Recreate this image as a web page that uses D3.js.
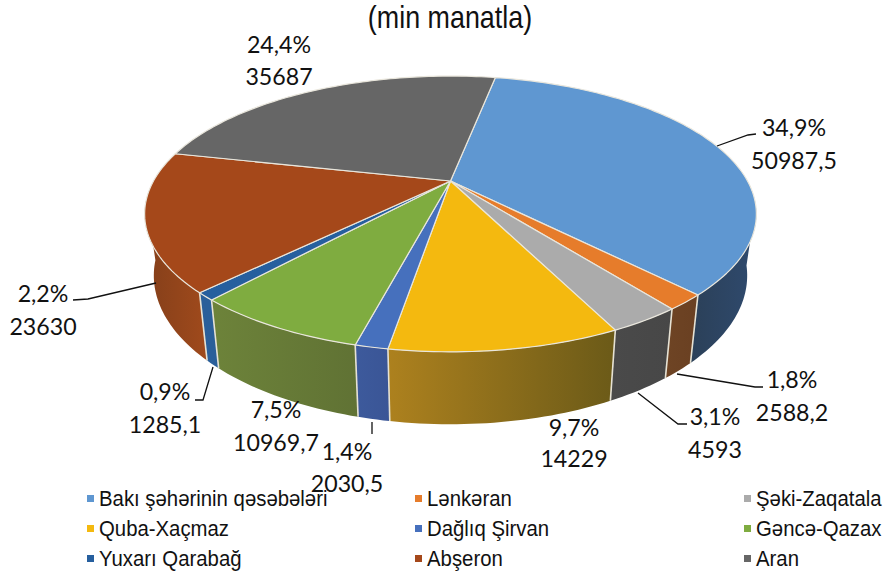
<!DOCTYPE html>
<html lang="az">
<head>
    <meta charset="UTF-8">
    <title>min manatla</title>
    <script src="https://d3js.org/d3.v7.min.js"></script>
    <style>
        html, body { margin: 0; padding: 0; background: #fff; }
        svg { display: block; }
        .label { font-family: Lato, sans-serif; font-size: 23.2px; fill: #111; text-anchor: middle; }
        .legend_text { font-family: "Liberation Sans", sans-serif; font-size: 22px; fill: #111; }
        .title { font-family: "Liberation Sans", sans-serif; font-size: 32px; fill: #111; text-anchor: middle; }
    </style>
</head>
<body>
<svg id="chart"></svg>
<script>
    // data
    const categories = ["Bakı şəhərinin qəsəbələri", "Lənkəran", "Şəki-Zaqatala", "Quba-Xaçmaz", "Dağlıq Şirvan",
        "Gəncə-Qazax", "Yuxarı Qarabağ", "Abşeron", "Aran"];
    const values = [50987.5, 2588.2, 4593, 14229, 2030.5, 10969.7, 1285.1, 23630, 35687];
    const percentLabels = ["34,9%", "1,8%", "3,1%", "9,7%", "1,4%", "7,5%", "0,9%", "2,2%", "24,4%"];
    const valueLabels = ["50987,5", "2588,2", "4593", "14229", "2030,5", "10969,7", "1285,1", "23630", "35687"];

    // styles
    const topColors = ["#5f97d1", "#e67c2b", "#ababab", "#f4b90f", "#4670bd", "#7fac40", "#265f9e", "#a5481a", "#666666"];
    const wallLeft = ["#2b4058", "#6e4424", "#4a4a4a", "#ad811e", "#3d5a9c", "#6d833a", "#2a5f9a", "#843f1a", "#555"];
    const wallRight = ["#2f4a6e", "#6a4022", "#474747", "#6b5a18", "#3a5596", "#607234", "#2a5f9a", "#a04a1c", "#555"];

    // label layout: [x, baseline of first line, baseline of second line]
    const labelPos = [[794, 136, 169], [792, 388, 421], [715, 425, 458], [574, 436, 467], [347, 460, 492],
        [276, 418, 451], [165, 400, 433], [43, 302, 335], [279, 53, 85]];
    const leaders = [
        [[717, 146], [748, 135], [756, 134]],
        [[677, 374], [755, 387], [763, 387]],
        [[638, 393], [678, 424], [687, 424]],
        [[372, 422], [372, 434]],
        [[213, 367], [203, 400], [195, 400]],
        [[156, 283], [88, 299], [73, 300]]
    ];
    const legendCols = [87, 415, 744];
    const legendRows = [499, 529, 559];

    const width = 884, height = 574;
    const svg = d3.select("#chart").attr("width", width).attr("height", height);

    // the pie lies in a plane seen in perspective, apex at (450,181)
    const persp = 0.239;
    const xScale = d3.scaleLinear().domain([0, 1]).range([450.5, 747.5]);
    const yScale = d3.scaleLinear().domain([0, 1]).range([181, 311]);
    const wallDepth = 59, wallShrink = 0.03;

    function project(theta, z) {
        const u = Math.sin(theta), v = -Math.cos(theta);
        const s = 1 / (1 - persp * v);
        const k = s * (1 - wallShrink * z);
        return [xScale(u * k), yScale(v * k) + wallDepth * s * z];
    }

    function rim(a0, a1, z) {
        const n = Math.max(2, Math.ceil((a1 - a0) / 0.02));
        return d3.range(n + 1).map(i => project(a0 + (a1 - a0) * i / n, z));
    }

    const deg = Math.PI / 180;
    const slices = d3.pie().sort(null)
        .startAngle(10.75 * deg).endAngle(370.75 * deg)(values);
    const line = d3.line();
    const visible0 = 100 * deg, visible1 = 262 * deg;

    const defs = svg.append("defs");
    slices.forEach(function (d, i) {
        const g = defs.append("linearGradient").attr("id", "wall" + i);
        g.append("stop").attr("offset", 0).attr("stop-color", wallLeft[i]);
        g.append("stop").attr("offset", 1).attr("stop-color", wallRight[i]);
    });

    // side walls
    const walls = svg.append("g");
    slices.forEach(function (d, i) {
        const a0 = Math.max(d.startAngle, visible0), a1 = Math.min(d.endAngle, visible1);
        if (a1 <= a0) return;
        const pts = rim(a0, a1, 0).concat(rim(a0, a1, 1).reverse());
        walls.append("path").attr("d", line(pts) + "Z")
            .attr("fill", "url(#wall" + i + ")");
    });

    // light dividers on the walls
    slices.forEach(function (d) {
        if (d.startAngle > visible0 && d.startAngle < visible1) {
            walls.append("path")
                .attr("d", line([project(d.startAngle, 0), project(d.startAngle, 1)]))
                .attr("stroke", "#e6e2d4").attr("stroke-width", 1.6).attr("fill", "none");
        }
    });

    // top of the pie
    const tops = svg.append("g");
    slices.forEach(function (d, i) {
        const pts = [[xScale(0), yScale(0)]].concat(rim(d.startAngle, d.endAngle, 0));
        tops.append("path").attr("d", line(pts) + "Z")
            .attr("fill", topColors[i])
            .attr("stroke", "#e9e6dc").attr("stroke-width", 1.2).attr("stroke-linejoin", "round");
    });

    // leader lines
    svg.append("g").selectAll("path").data(leaders).join("path")
        .attr("d", d => line(d)).attr("fill", "none")
        .attr("stroke", "#111").attr("stroke-width", 1.3);

    // labels
    const labels = svg.append("g");
    percentLabels.forEach(function (t, i) {
        labels.append("text").attr("class", "label").attr("x", labelPos[i][0]).attr("y", labelPos[i][1]).text(t);
        labels.append("text").attr("class", "label").attr("x", labelPos[i][0]).attr("y", labelPos[i][2]).text(valueLabels[i]);
    });

    // the reference type is condensed, so squeeze it horizontally
    svg.append("text").attr("class", "title")
        .attr("transform", "translate(450,28) scale(0.84,1)").text("(min manatla)");

    // legend
    const legend = svg.append("g");
    categories.forEach(function (c, i) {
        const x = legendCols[i % 3], y = legendRows[Math.floor(i / 3)];
        legend.append("rect").attr("x", x).attr("y", y - 4).attr("width", 7).attr("height", 7)
            .attr("fill", topColors[i]);
        legend.append("text").attr("class", "legend_text")
            .attr("transform", "translate(" + (x + 12) + "," + (y + 7) + ") scale(0.925,1)").text(c);
    });
</script>
</body>
</html>
